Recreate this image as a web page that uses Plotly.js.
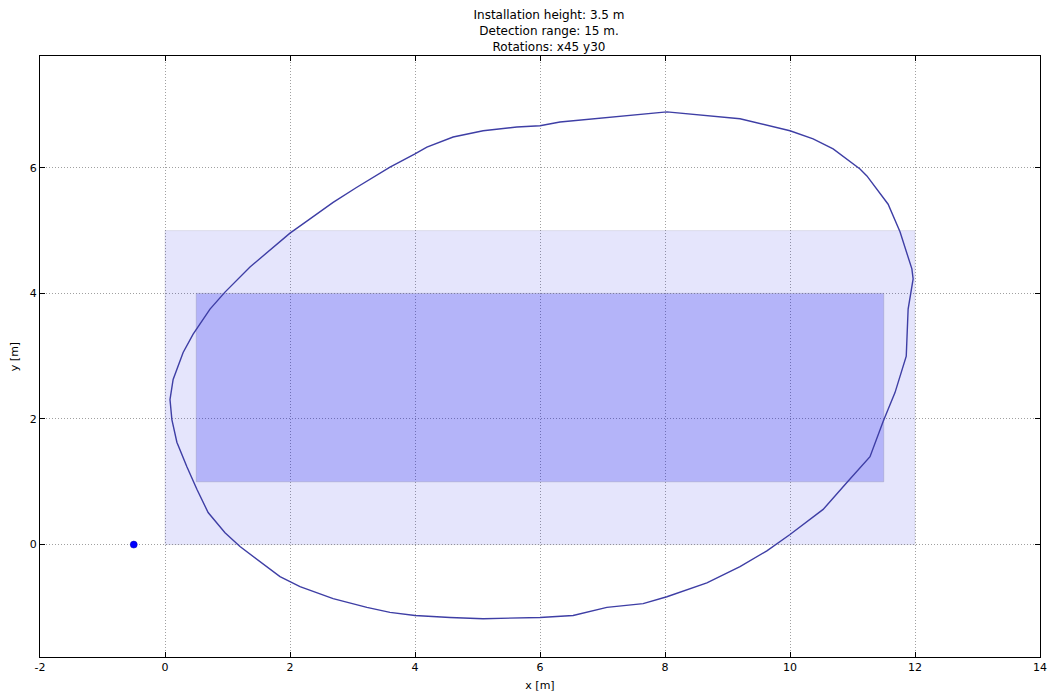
<!DOCTYPE html>
<html><head><meta charset="utf-8">
<script src="https://cdn.plot.ly/plotly-3.0.1.min.js"></script>
<style>html,body{margin:0;padding:0;background:#fff}#chart{width:1048px;height:693px}</style>
</head><body><div id="chart"></div>
<script>
// Detection contour (closed curve)
const contourX = [8.03, 8.56, 9.2, 10.0, 10.37, 10.69, 11.12, 11.23, 11.57, 11.76, 11.95, 11.97, 11.89, 11.86, 11.68, 11.49, 11.28, 10.91, 10.53, 10.0, 9.63, 9.2, 8.67, 8.03, 7.65, 7.07, 6.53, 6.0, 5.57, 5.09, 4.56, 4.0, 3.6, 3.23, 2.69, 2.16, 1.84, 1.47, 1.2, 0.96, 0.69, 0.51, 0.35, 0.19, 0.11, 0.08, 0.13, 0.29, 0.45, 0.72, 0.96, 1.36, 1.84, 2.0, 2.27, 2.69, 3.07, 3.6, 4.0, 4.19, 4.61, 5.09, 5.63, 6.0, 6.32, 6.85, 7.49, 8.03];
const contourY = [6.89, 6.84, 6.78, 6.59, 6.46, 6.30, 5.98, 5.87, 5.42, 4.98, 4.39, 4.23, 3.75, 3.0, 2.42, 1.96, 1.40, 0.99, 0.56, 0.16, -0.1, -0.35, -0.61, -0.83, -0.94, -1.00, -1.13, -1.16, -1.17, -1.18, -1.16, -1.13, -1.08, -1.00, -0.86, -0.67, -0.51, -0.24, -0.03, 0.19, 0.51, 0.88, 1.24, 1.63, 1.99, 2.31, 2.63, 3.06, 3.35, 3.75, 4.02, 4.42, 4.83, 4.96, 5.15, 5.45, 5.69, 6.01, 6.22, 6.33, 6.49, 6.59, 6.65, 6.67, 6.73, 6.78, 6.84, 6.89];
// Outer area rectangle corners
const outerX = [0, 12, 12, 0, 0];
const outerY = [0, 0, 5, 5, 0];
// Inner area rectangle corners
const innerX = [0.5, 11.5, 11.5, 0.5, 0.5];
const innerY = [1, 1, 4, 4, 1];
// Sensor position
const sensorX = [-0.5];
const sensorY = [0];
// Ticks
const xTicks = [-2, 0, 2, 4, 6, 8, 10, 12, 14];
const yTicks = [-2, 0, 2, 4, 6, 8];

const traces = [
  {x: outerX, y: outerY, type: 'scatter', mode: 'lines', fill: 'toself',
   fillcolor: 'rgba(0,0,230,0.1)', line: {color: 'rgba(120,120,140,0.15)', width: 1}, hoverinfo: 'skip'},
  {x: innerX, y: innerY, type: 'scatter', mode: 'lines', fill: 'toself',
   fillcolor: 'rgba(0,0,240,0.21)', line: {color: 'rgba(120,120,140,0.25)', width: 1}, hoverinfo: 'skip'},
  {x: contourX, y: contourY, type: 'scatter', mode: 'lines',
   line: {color: 'rgb(62,62,165)', width: 1.4}},
  {x: sensorX, y: sensorY, type: 'scatter', mode: 'markers',
   marker: {color: '#0000ff', size: 7, line: {color: '#0000aa', width: 0.5}}}
];

const axisCommon = {
  showline: true, mirror: 'ticks', linecolor: '#000', linewidth: 1,
  ticks: 'inside', ticklen: 5, tickcolor: '#000', tickwidth: 1,
  showgrid: true, gridcolor: '#a0a0a0', griddash: '1px,2px', gridwidth: 1,
  zeroline: false, tickfont: {family: 'DejaVu Sans', size: 11, color: '#000'}
};

const layout = {
  width: 1048, height: 693,
  margin: {l: 40, r: 8, t: 56, b: 36},
  paper_bgcolor: '#fff', plot_bgcolor: '#fff',
  showlegend: false,
  font: {family: 'DejaVu Sans', color: '#000'},
  title: {text: 'Installation height: 3.5 m<br>Detection range: 15 m.<br>Rotations: x45 y30',
          font: {family: 'DejaVu Sans', size: 12, color: '#000'},
          xref: 'paper', x: 0.509, xanchor: 'center',
          yref: 'container', y: 0.972, yanchor: 'top'},
  xaxis: Object.assign({}, axisCommon, {range: [-2, 14], tickvals: xTicks, ticktext: xTicks.map(String),
          title: {text: 'x [m]', font: {family: 'DejaVu Sans', size: 11}, standoff: 8}}),
  yaxis: Object.assign({}, axisCommon, {range: [-1.79, 7.78], tickvals: yTicks, ticktext: yTicks.map(String),
          title: {text: 'y [m]', font: {family: 'DejaVu Sans', size: 11}, standoff: 8}})
};

Plotly.newPlot('chart', traces, layout, {displayModeBar: false, staticPlot: true});
</script>
</body></html>
